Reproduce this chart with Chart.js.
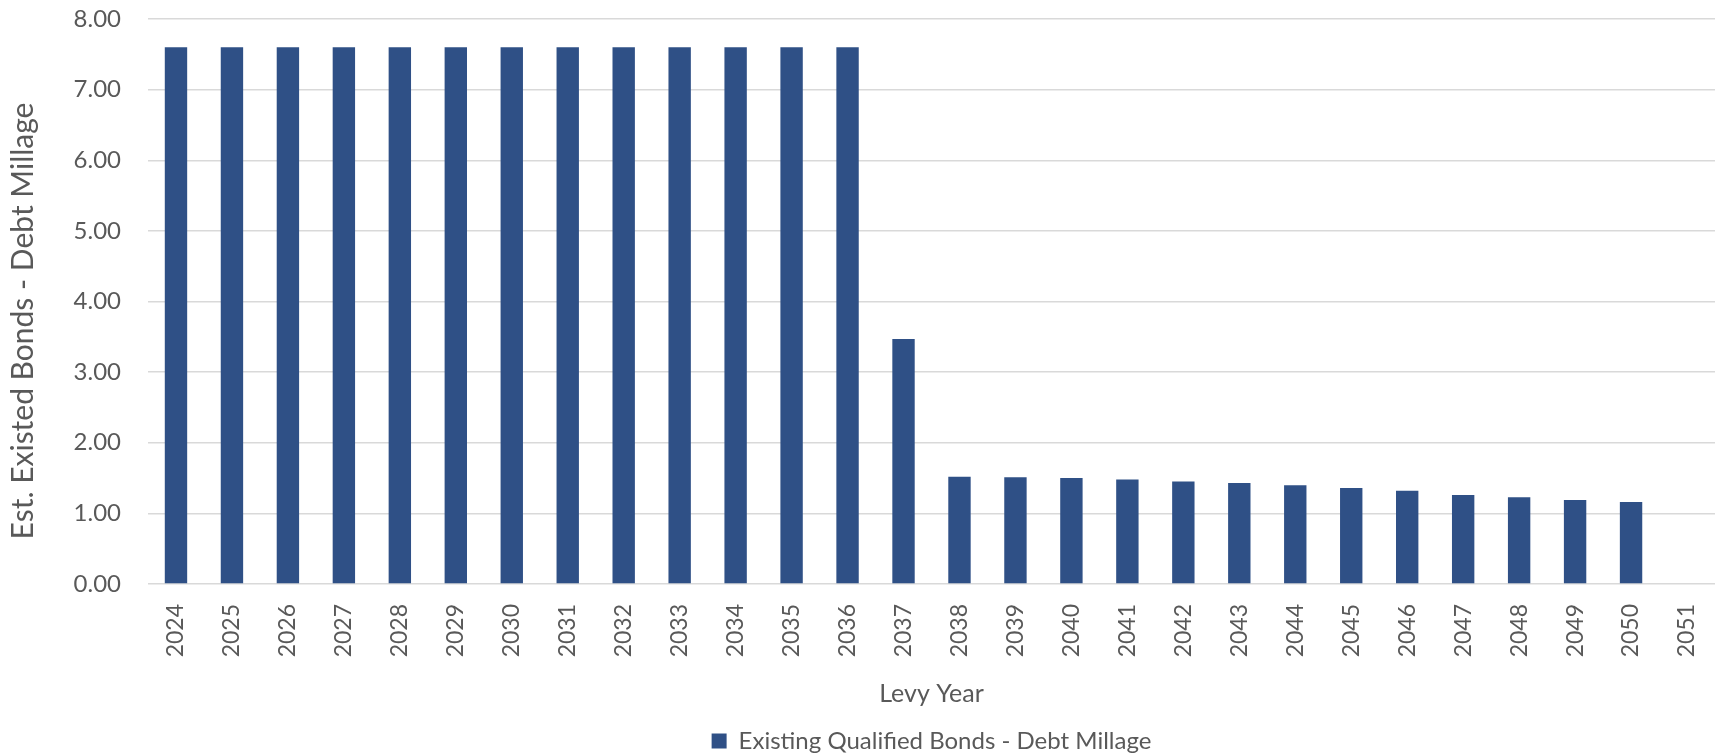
<!DOCTYPE html>
<html>
<head>
<meta charset="utf-8">
<script src="https://cdn.jsdelivr.net/npm/chart.js@4/dist/chart.umd.min.js"></script>
<style>
  html, body { margin: 0; padding: 0; background: #ffffff; }
  #wrap { width: 1720px; height: 753px; position: relative; }
</style>
</head>
<body>
<div id="wrap"><canvas id="c" width="1720" height="753"></canvas></div>
<script>
// Levy years on the category axis
const levyYears = [
  '2024','2025','2026','2027','2028','2029','2030','2031','2032','2033',
  '2034','2035','2036','2037','2038','2039','2040','2041','2042','2043',
  '2044','2045','2046','2047','2048','2049','2050','2051'
];
// Estimated debt millage of existing qualified bonds per levy year
const debtMillage = [
  7.60, 7.60, 7.60, 7.60, 7.60, 7.60, 7.60, 7.60, 7.60, 7.60,
  7.60, 7.60, 7.60, 3.47, 1.52, 1.51, 1.50, 1.48, 1.45, 1.43,
  1.40, 1.36, 1.32, 1.26, 1.23, 1.19, 1.16, null
];
const seriesName = 'Existing Qualified Bonds - Debt Millage';
const yAxisTitle = 'Est. Existed Bonds - Debt Millage';
const xAxisTitle = 'Levy Year';

const FONT = 'Lato, "Open Sans", sans-serif';
const TEXT = '#595959';
const GRID = '#d9d9d9';
const PAD_BOTTOM = -10;
const PLOT_BOTTOM = 584;

Chart.defaults.font.family = FONT;
Chart.defaults.color = TEXT;

// Vertical value-axis title, drawn beside the tick labels
const yTitlePlugin = {
  id: 'yTitle',
  afterDraw(chart) {
    const { ctx } = chart;
    ctx.save();
    ctx.translate(33, 321);
    ctx.rotate(-Math.PI / 2);
    ctx.font = '30px ' + FONT;
    ctx.fillStyle = TEXT;
    ctx.textAlign = 'center';
    ctx.textBaseline = 'alphabetic';
    ctx.fillText(yAxisTitle, 0, 0);
    ctx.restore();
  }
};

// Center the legend under the plot area instead of the whole canvas
const legendUnderPlot = {
  id: 'legendUnderPlot',
  afterLayout(chart) {
    const lg = chart.legend;
    if (!lg) return;
    lg.left = chart.chartArea.left;
    lg.right = chart.chartArea.right;
    lg.width = lg.right - lg.left;
  }
};

new Chart(document.getElementById('c'), {
  type: 'bar',
  data: {
    labels: levyYears,
    datasets: [{
      label: seriesName,
      data: debtMillage,
      backgroundColor: '#2F5086',
      borderWidth: 0,
      categoryPercentage: 1.0,
      barPercentage: 0.4
    }]
  },
  plugins: [yTitlePlugin, legendUnderPlot],
  options: {
    responsive: false,
    animation: false,
    devicePixelRatio: 1,
    layout: { padding: { top: 19, right: 5, bottom: PAD_BOTTOM, left: 0 } },
    plugins: {
      tooltip: { enabled: false },
      legend: {
        position: 'bottom',
        labels: {
          boxWidth: 15,
          boxHeight: 15,
          padding: 2,
          color: TEXT,
          font: { size: 24, family: FONT }
        }
      }
    },
    scales: {
      x: {
        // invisible grid; only its tick length is used to space the labels
        grid: { display: true, color: 'transparent', drawTicks: true, tickLength: 18, tickColor: 'transparent' },
        border: { display: false },
        ticks: {
          minRotation: 90,
          maxRotation: 90,
          autoSkip: false,
          padding: 2,
          color: TEXT,
          font: { size: 23, family: FONT }
        },
        title: {
          display: true,
          text: xAxisTitle,
          color: TEXT,
          font: { size: 25, family: FONT },
          padding: { top: 4, bottom: 18 }
        },
        afterFit: (s) => {
          const lg = s.chart.legend ? s.chart.legend.height : 36;
          s.height = s.chart.height - PAD_BOTTOM - lg - PLOT_BOTTOM;
        }
      },
      y: {
        min: 0,
        max: 8,
        grid: { color: GRID, lineWidth: 1.5, drawTicks: true, tickLength: 23, tickColor: 'transparent' },
        border: { display: false },
        ticks: {
          stepSize: 1,
          padding: 4,
          color: TEXT,
          font: { size: 24, family: FONT },
          callback: (v) => Number(v).toFixed(2)
        },
        title: { display: false, text: yAxisTitle },
        afterFit: (s) => { s.width = 148; }
      }
    }
  }
});
</script>
</body>
</html>
